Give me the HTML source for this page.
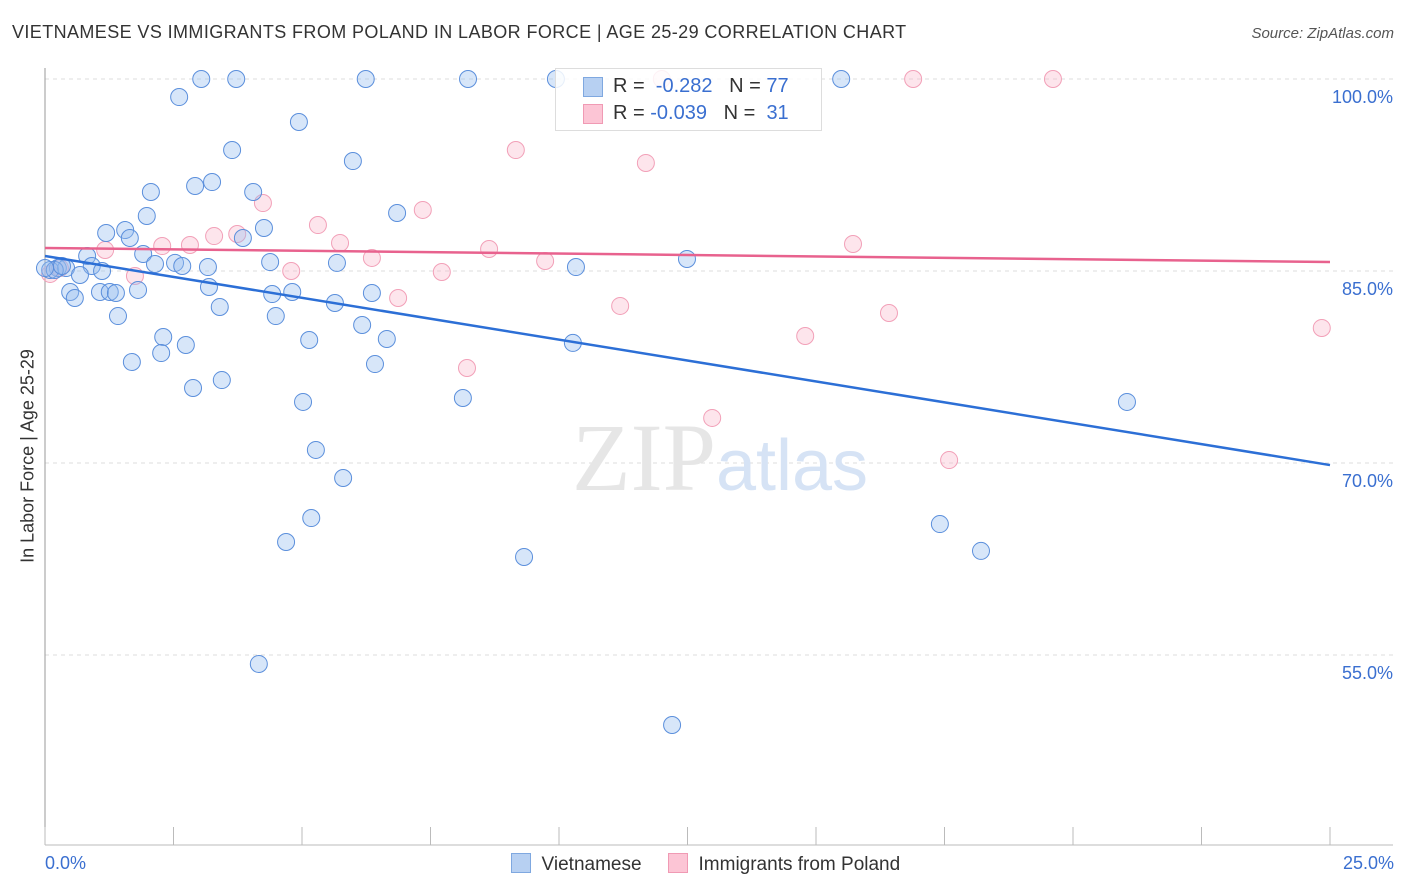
<!DOCTYPE html>
<html><head><meta charset="utf-8"><style>
body{margin:0;background:#fff;width:1406px;height:892px;overflow:hidden;font-family:"Liberation Sans",sans-serif}
.t{position:absolute;white-space:nowrap}
</style></head><body>
<div class="t" style="left:12px;top:22px;font-size:18px;letter-spacing:0.4px;color:#333">VIETNAMESE VS IMMIGRANTS FROM POLAND IN LABOR FORCE | AGE 25-29 CORRELATION CHART</div>
<div class="t" style="right:12px;top:25px;font-size:15px;color:#555;font-style:italic">Source: ZipAtlas.com</div>
<svg id="chart" width="1406" height="892" style="position:absolute;left:0;top:0"></svg>
<div class="t" style="left:555px;top:68px;width:265px;height:61px;border:1px solid #ddd;background:rgba(255,255,255,0.85)">
<div style="position:absolute;left:27px;top:8px;width:18px;height:18px;background:#b7d0f2;border:1px solid #7fa8e0"></div>
<div style="position:absolute;left:27px;top:35px;width:18px;height:18px;background:#fcc5d5;border:1px solid #f09ab4"></div>
<div style="position:absolute;left:57px;top:6px;font-size:20px;color:#333">R = &nbsp;<span style="color:#3a6fd0">-0.282</span> &nbsp; N = <span style="color:#3a6fd0">77</span></div>
<div style="position:absolute;left:57px;top:33px;font-size:20px;color:#333">R = <span style="color:#3a6fd0">-0.039</span> &nbsp; N = &nbsp;<span style="color:#3a6fd0">31</span></div>
</div>
<div class="t" style="left:28px;top:456px;font-size:18px;color:#333;transform:translate(-50%,-50%) rotate(-90deg)">In Labor Force | Age 25-29</div>
<div class="t" style="left:45px;top:853px;font-size:18px;color:#3a6fd0">0.0%</div>
<div class="t" style="right:12px;top:853px;font-size:18px;color:#3a6fd0">25.0%</div>
<div class="t" style="left:511px;top:853px;font-size:19px;color:#333">
<span style="display:inline-block;width:18px;height:18px;background:#b7d0f2;border:1px solid #7fa8e0;vertical-align:-3px"></span>&nbsp; Vietnamese &nbsp;&nbsp;&nbsp;
<span style="display:inline-block;width:18px;height:18px;background:#fcc5d5;border:1px solid #f09ab4;vertical-align:-3px"></span>&nbsp; Immigrants from Poland</div>
<script>
const yTicks=[100,85,70,55];
const yTickLabels=["100.0%","85.0%","70.0%","55.0%"];
const xTicks=[0,2.5,5,7.5,10,12.5,15,17.5,20,22.5,25];
const viX=[3.04,3.72,6.24,8.23,9.94,15.49,2.61,4.94,3.64,5.99,2.92,3.25,2.06,4.05,1.98,6.85,4.26,1.56,1.19,1.65,3.85,0.82,1.91,0.25,0.10,0.41,0.91,1.11,0.68,2.14,2.53,2.67,3.17,4.38,5.68,10.33,12.49,0.49,0.58,1.07,1.26,1.38,1.81,3.19,4.42,4.81,6.36,5.64,3.40,1.42,4.49,6.17,2.30,2.74,5.14,6.65,10.27,2.26,1.69,6.42,3.44,2.88,5.02,8.13,21.05,5.27,5.80,5.18,4.69,17.41,18.21,9.32,4.16,12.20,0.19,0.33,0.00];
const viY=[100,100,100,100,100,100,98.59,96.64,94.45,93.59,91.64,91.95,91.17,91.17,89.30,89.53,88.36,88.20,87.97,87.58,87.58,86.17,86.33,85.23,85.08,85.23,85.39,85.0,84.69,85.55,85.63,85.39,85.31,85.70,85.63,85.31,85.94,83.36,82.89,83.36,83.36,83.28,83.52,83.75,83.20,83.36,83.28,82.50,82.19,81.48,81.48,80.78,79.84,79.22,79.61,79.69,79.38,78.59,77.89,77.73,76.48,75.86,74.77,75.08,74.77,71.02,68.83,65.70,63.83,65.23,63.13,62.66,54.30,49.53,85.08,85.39,85.23];
const plX=[12.0,16.89,19.61,9.16,11.69,4.24,7.35,5.31,3.29,3.74,2.28,2.82,1.17,5.74,8.64,15.72,6.36,9.73,4.79,7.72,6.87,11.19,16.42,14.79,24.84,8.21,12.98,17.59,1.75,0.10,0.29];
const plY=[100,100,100,94.45,93.44,90.31,89.77,88.59,87.73,87.89,86.95,87.03,86.64,87.19,86.72,87.11,86.02,85.78,85.0,84.92,82.89,82.27,81.72,79.92,80.55,77.42,73.52,70.23,84.61,84.77,85.23];
const viTrend=[86.17,69.84];
const plTrend=[86.8,85.7];
const X=v=>45+v*51.4, Y=v=>79+(100-v)*12.8;
const svg=document.getElementById('chart');const NS='http://www.w3.org/2000/svg';
function mk(t,a){const e=document.createElementNS(NS,t);for(const k in a)e.setAttribute(k,a[k]);svg.appendChild(e);return e;}
yTicks.forEach((v,i)=>{const g=mk('line',{x1:45,x2:1393,y1:Y(v),y2:Y(v),stroke:'#ddd','stroke-dasharray':'4,4'});


const t=mk('text',{x:1393,y:Y(v)+24,'text-anchor':'end','font-size':18,fill:'#3a6fd0','font-family':'Liberation Sans'});t.textContent=yTickLabels[i];

});
const ax=mk('line',{x1:45,x2:45,y1:68,y2:845,stroke:'#999'});


const bx=mk('line',{x1:45,x2:1393,y1:845,y2:845,stroke:'#bbb'});


xTicks.forEach(v=>{const l=mk('line',{x1:X(v),x2:X(v),y1:827,y2:845,stroke:'#bbb'});

});
const wm=mk('text',{x:720,y:490,'text-anchor':'middle','font-size':96,fill:'#e6e6e6','font-family':'Liberation Serif'});wm.innerHTML='ZIP<tspan fill="#d6e3f5" font-family="Liberation Sans" font-size="72">atlas</tspan>';


plX.forEach((x,i)=>{const c=mk('circle',{cx:X(x),cy:Y(plY[i]),r:8.5,fill:'rgba(250,180,200,0.35)',stroke:'#f2a0b8','stroke-width':1});

});
viX.forEach((x,i)=>{const c=mk('circle',{cx:X(x),cy:Y(viY[i]),r:8.5,fill:'rgba(150,190,240,0.38)',stroke:'#5b8fdc','stroke-width':1});

});
const t1=mk('line',{x1:X(0),x2:X(25),y1:Y(plTrend[0]),y2:Y(plTrend[1]),stroke:'#e8628e','stroke-width':2.5});


const t2=mk('line',{x1:X(0),x2:X(25),y1:Y(viTrend[0]),y2:Y(viTrend[1]),stroke:'#2c6fd6','stroke-width':2.5});


</script>
</body></html>
